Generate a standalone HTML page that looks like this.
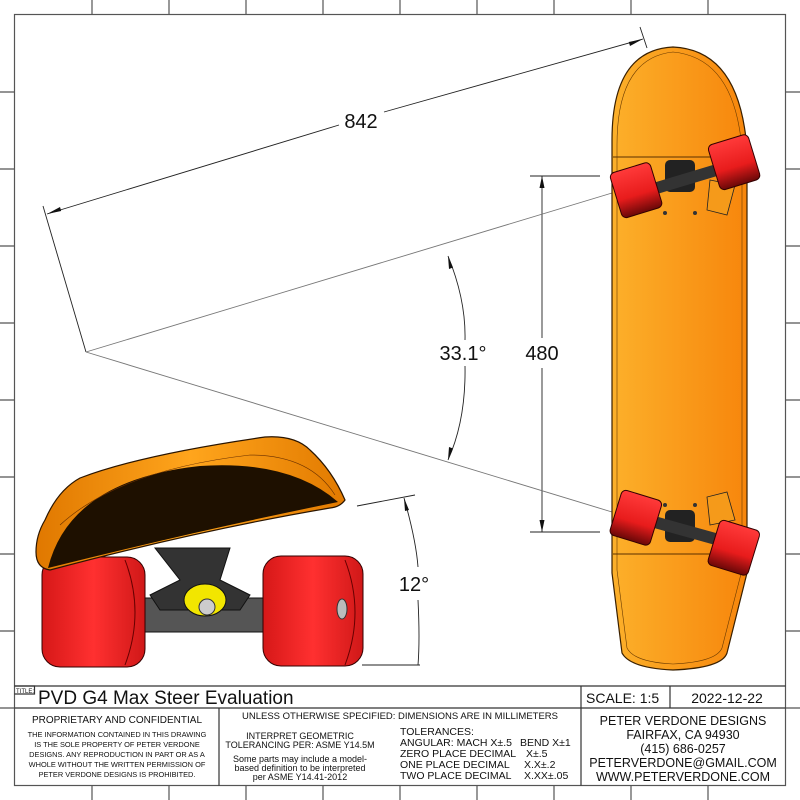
<!DOCTYPE html>
<html><head><meta charset="utf-8"><style>
html,body{margin:0;padding:0;background:#fff}
svg{display:block}
text{font-family:"Liberation Sans",sans-serif;fill:#111}
</style></head><body>
<svg width="800" height="800" viewBox="0 0 800 800" xmlns="http://www.w3.org/2000/svg">
<defs>
<linearGradient id="deck" x1="0" x2="1" y1="0" y2="0"><stop offset="0" stop-color="#fcb02a"/><stop offset="1" stop-color="#f7860c"/></linearGradient>
<linearGradient id="wheel" x1="0" x2="0" y1="0" y2="1"><stop offset="0" stop-color="#ff3a3a"/><stop offset="0.6" stop-color="#e81c1c"/><stop offset="1" stop-color="#6a0808"/></linearGradient>
<linearGradient id="wheelS" x1="0" x2="1" y1="0" y2="0"><stop offset="0" stop-color="#d61818"/><stop offset="0.5" stop-color="#ff3030"/><stop offset="1" stop-color="#d01818"/></linearGradient>
<linearGradient id="sideDeck" x1="0" x2="1" y1="0" y2="0"><stop offset="0" stop-color="#e07800"/><stop offset="0.5" stop-color="#ffa51c"/><stop offset="1" stop-color="#e27a00"/></linearGradient>
</defs>
<g fill="none" stroke="#555" stroke-width="1.2">
<rect x="14.5" y="14.5" width="771" height="771"/>
<path d="M92 0V14.5M169 0V14.5M246 0V14.5M323 0V14.5M400 0V14.5M477 0V14.5M554 0V14.5M631 0V14.5M708 0V14.5"/>
<path d="M92 785.5V800M169 785.5V800M246 785.5V800M323 785.5V800M400 785.5V800M477 785.5V800M554 785.5V800M631 785.5V800M708 785.5V800"/>
<path d="M0 92H14.5M0 169H14.5M0 246H14.5M0 323H14.5M0 400H14.5M0 477H14.5M0 554H14.5M0 631H14.5M0 708H14.5"/>
<path d="M785.5 92H800M785.5 169H800M785.5 246H800M785.5 323H800M785.5 400H800M785.5 477H800M785.5 554H800M785.5 631H800M785.5 708H800"/>
</g>
<g fill="none" stroke="#333" stroke-width="1.2">
<path d="M14.5 686H785.5M14.5 708H785.5M581 686V785.5M670 686V708M219 708V785.5"/>
<path d="M14.5 686h20v8h-20"/>
</g>
<text x="16" y="693" font-size="6">TITLE:</text>
<text x="38" y="704" font-size="19">PVD G4 Max Steer Evaluation</text>
<text x="586" y="703" font-size="14">SCALE: 1:5</text>
<text x="727" y="703" font-size="14" text-anchor="middle">2022-12-22</text>
<text x="117" y="723" font-size="10" text-anchor="middle">PROPRIETARY AND CONFIDENTIAL</text>
<g font-size="7.4" text-anchor="middle">
<text x="117" y="737">THE INFORMATION CONTAINED IN THIS DRAWING</text>
<text x="117" y="747">IS THE SOLE PROPERTY OF PETER VERDONE</text>
<text x="117" y="757">DESIGNS.  ANY  REPRODUCTION IN PART OR AS A</text>
<text x="117" y="767">WHOLE WITHOUT THE WRITTEN PERMISSION OF</text>
<text x="117" y="777">PETER VERDONE DESIGNS IS PROHIBITED.</text>
</g>
<text x="400" y="719" font-size="9.5" text-anchor="middle">UNLESS OTHERWISE SPECIFIED: DIMENSIONS ARE IN MILLIMETERS</text>
<g font-size="9" text-anchor="middle">
<text x="300" y="739">INTERPRET GEOMETRIC</text>
<text x="300" y="748">TOLERANCING PER: ASME Y14.5M</text>
<text x="300" y="762">Some parts may include a model-</text>
<text x="300" y="771">based definition to be interpreted</text>
<text x="300" y="780">per ASME Y14.41-2012</text>
</g>
<g font-size="10.5">
<text x="400" y="735">TOLERANCES:</text>
<text x="400" y="746">ANGULAR: MACH X±.5</text><text x="520" y="746">BEND X±1</text>
<text x="400" y="757">ZERO PLACE DECIMAL</text><text x="526" y="757">X±.5</text>
<text x="400" y="768">ONE PLACE DECIMAL</text><text x="524" y="768">X.X±.2</text>
<text x="400" y="779">TWO PLACE DECIMAL</text><text x="524" y="779">X.XX±.05</text>
</g>
<g font-size="12.5" text-anchor="middle">
<text x="683" y="725">PETER VERDONE DESIGNS</text>
<text x="683" y="739">FAIRFAX, CA 94930</text>
<text x="683" y="753">(415) 686-0257</text>
<text x="683" y="767">PETERVERDONE@GMAIL.COM</text>
<text x="683" y="781">WWW.PETERVERDONE.COM</text>
</g>
<g stroke="#222" stroke-width="0.9" fill="none">
<path d="M43 206L86 352"/>
<path d="M640 27L647 48"/>
<path d="M47 214L339 125M384 112L643 39"/>
<path d="M530 176H600M530 532H600"/>
<path d="M542 176V338M542 368V532"/>
<path d="M448 256Q466 300 465 340M465 366Q466 420 448 460"/>
<path d="M357 506L415 495M362 665H420"/>
<path d="M404 498Q416 540 418 567M418 600Q420 640 418 665"/>
</g>
<g stroke="#777" stroke-width="0.9" fill="none">
<path d="M86 352L612 193M86 352L612 512"/>
</g>
<g fill="#111">
<path d="M47 214l13-7 1.2 4z"/>
<path d="M643 39l-13 7-1.2-4z"/>
<path d="M542 176l-2.5 12h5z M542 532l-2.5-12h5z"/>
<path d="M448 256l1 13 4-1.5z M448 460l1-13 4 1.5z"/>
<path d="M404 498l1 13 4-1z"/>
</g>
<text x="361" y="128" font-size="20" text-anchor="middle">842</text>
<text x="463" y="360" font-size="20" text-anchor="middle">33.1°</text>
<text x="542" y="360" font-size="20" text-anchor="middle">480</text>
<text x="414" y="591" font-size="20" text-anchor="middle">12°</text>
<!-- top view board -->
<path d="M612 380V140Q612 50 673 47Q740 50 747 150V573L727 653Q722 668 673 670Q630 668 622 653L612 573Z" fill="url(#deck)" stroke="#3a2000" stroke-width="1.2"/>
<path d="M617 380V145Q617 58 673 52Q735 58 742 150V570L722 648Q716 662 673 664Q634 662 627 648L617 570Z" fill="none" stroke="#6a3a00" stroke-width="0.6"/>
<path d="M613 157H746M613 554H746" stroke="#5a3000" stroke-width="1"/>
<g>
<path d="M710 180l25 5-8 30-20-5z" fill="#f59a1a" stroke="#222" stroke-width="0.8"/>
<path d="M710 525l25-5-8-28-20 5z" fill="#f59a1a" stroke="#222" stroke-width="0.8"/>
<rect x="665" y="160" width="30" height="32" rx="5" fill="#222"/>
<rect x="665" y="510" width="30" height="32" rx="5" fill="#222"/>
<path d="M640 190L730 163M640 196L730 169" stroke="#333" stroke-width="6"/>
<path d="M640 515L730 540M640 521L730 546" stroke="#333" stroke-width="6"/>
<g transform="rotate(-17 635 190)"><rect x="615" y="167" width="42" height="47" rx="5" fill="url(#wheel)" stroke="#300" stroke-width="1"/></g>
<g transform="rotate(-17 733 162)"><rect x="713" y="139" width="42" height="47" rx="5" fill="url(#wheel)" stroke="#300" stroke-width="1"/></g>
<g transform="rotate(17 635 517)"><rect x="615" y="494" width="42" height="47" rx="5" fill="url(#wheel)" stroke="#300" stroke-width="1"/></g>
<g transform="rotate(17 733 547)"><rect x="713" y="524" width="42" height="47" rx="5" fill="url(#wheel)" stroke="#300" stroke-width="1"/></g>
<circle cx="665" cy="213" r="2" fill="#333"/><circle cx="695" cy="213" r="2" fill="#333"/>
<circle cx="665" cy="505" r="2" fill="#333"/><circle cx="695" cy="505" r="2" fill="#333"/>
</g>
<!-- side view -->
<rect x="120" y="598" width="150" height="34" rx="3" fill="#555" stroke="#111"/>
<path d="M155 548H230L220 580L250 595L240 610H160L150 595L180 580Z" fill="#333" stroke="#111"/>
<ellipse cx="205" cy="600" rx="21" ry="16" fill="#f2e600" stroke="#111"/>
<circle cx="207" cy="607" r="8" fill="#ccc" stroke="#333"/>
<rect x="42" y="557" width="103" height="110" rx="18" fill="url(#wheelS)" stroke="#300"/>
<path d="M125 560Q145 612 125 665" stroke="#600" fill="none"/>
<rect x="263" y="556" width="100" height="110" rx="18" fill="url(#wheelS)" stroke="#300"/>
<path d="M345 560Q365 612 345 665" stroke="#600" fill="none"/>
<ellipse cx="342" cy="609" rx="5" ry="10" fill="#bbb" stroke="#333"/>
<path d="M36 552Q36 535 45 520Q58 490 80 478Q140 455 265 437Q295 435 310 450Q332 470 345 500Q340 507 330 508Q200 530 50 570Q36 568 36 552Z" fill="url(#sideDeck)" stroke="#2a1500" stroke-width="1.2"/>
<path d="M48 568Q70 480 200 466Q290 460 338 502Q200 530 48 568Z" fill="#1e1000"/>
<path d="M60 525Q120 470 250 455Q310 455 335 495" fill="none" stroke="#6a3000" stroke-width="0.6"/>
</svg>
</body></html>
